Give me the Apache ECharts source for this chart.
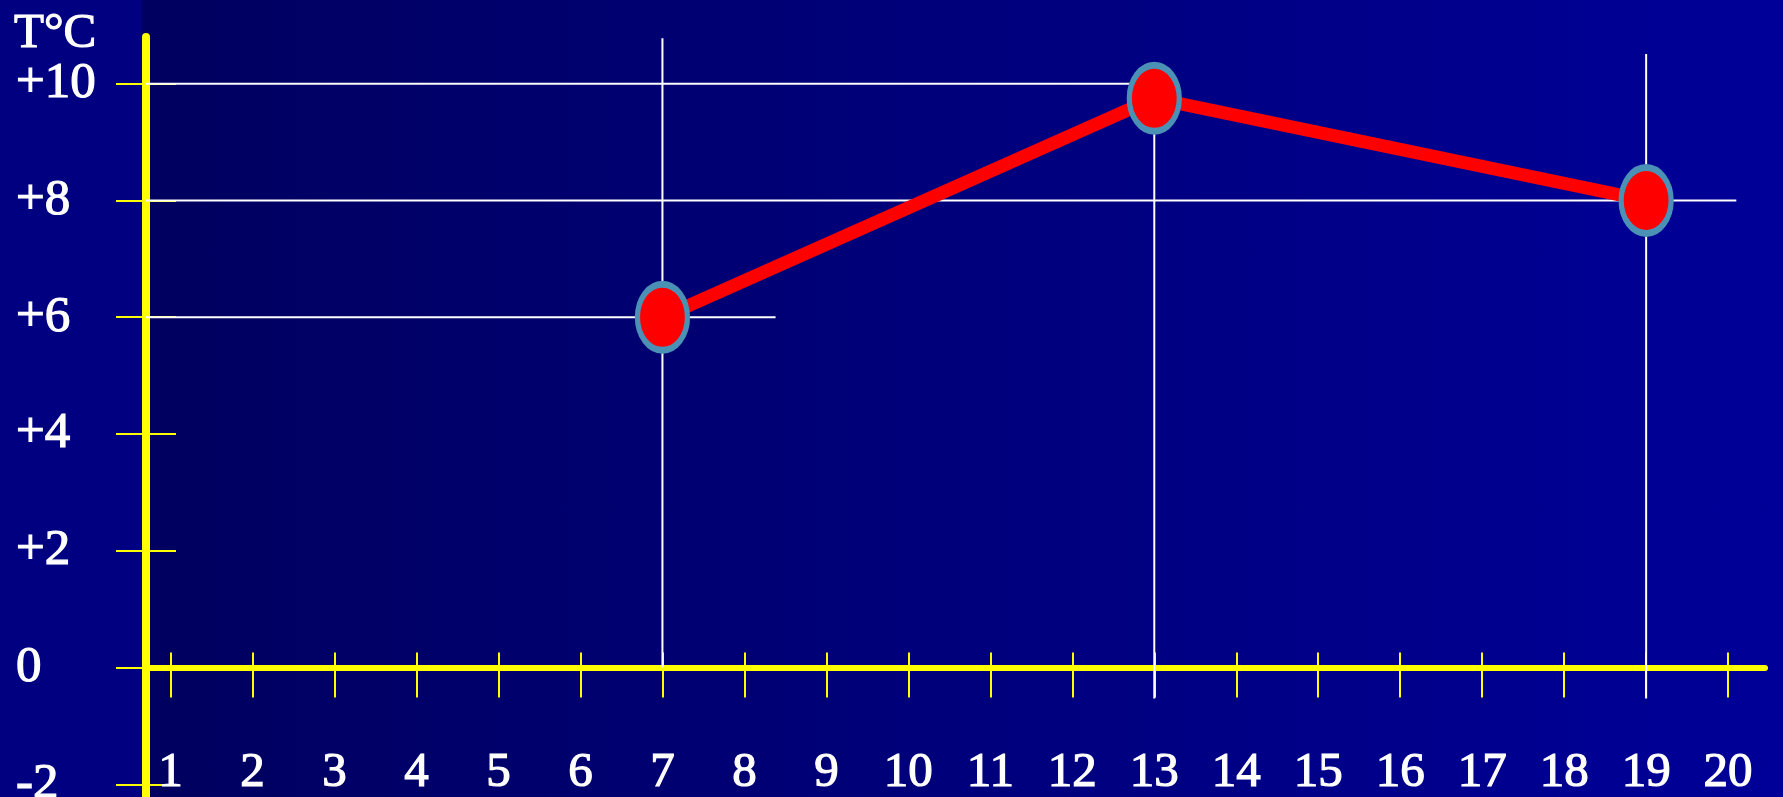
<!DOCTYPE html>
<html><head><meta charset="utf-8">
<script src="https://cdn.jsdelivr.net/npm/echarts@6/dist/echarts.min.js"></script>
<style>
html,body{margin:0;padding:0;overflow:hidden;}
#chart{width:1783px;height:797px;background:linear-gradient(to right,#000080 0px,#000080 142px,#00005f 142px,#000098 1783px);}
</style></head><body><div id="chart"></div>
<script>
// ---- data ----
const xTicks = [1,2,3,4,5,6,7,8,9,10,11,12,13,14,15,16,17,18,19,20];
const yTicks = [-2,0,2,4,6,8,10];
const yTickLabels = ['-2','0','+2','+4','+6','+8','+10'];
const hours = [7,13,19];
const temps = [6,9.75,8];
// reading guide lines (data space)
const guideH = [{y:10,xTo:13.26},{y:8,xTo:20.1},{y:6,xTo:8.38}];
const guideV = [{x:7,yFrom:10.78,yTo:0},{x:13,yFrom:10,yTo:-0.53},{x:19,yFrom:10.51,yTo:-0.53}];
const axisName = 'T°C';

const X_MIN = 0.7, X_MAX = 20.45, Y_MIN = -2.2, Y_MAX = 10.8;
const YELLOW = '#ffff00';
const FONT = '"Liberation Serif", "Times New Roman", serif';
const TXT = {color:'#ffffff', fontWeight:'normal', fontFamily:FONT, textBorderColor:'#ffffff', textBorderWidth:1.2};

const chart = echarts.init(document.getElementById('chart'), null, {renderer:'canvas'});

const guideSeries = [];
guideH.forEach(g => guideSeries.push({
  type:'line', data:[[X_MIN,g.y],[g.xTo,g.y]], showSymbol:false, symbol:'none', silent:true, z:1,
  lineStyle:{color:'#ffffff', width:2}, animation:false
}));
guideV.forEach(g => guideSeries.push({
  type:'line', data:[[g.x,g.yFrom],[g.x,g.yTo]], showSymbol:false, symbol:'none', silent:true, z:1,
  lineStyle:{color:'#ffffff', width:2}, animation:false
}));

const ellipse = 'path://M0,-100 C55.2,-100 100,-55.2 100,0 C100,55.2 55.2,100 0,100 C-55.2,100 -100,55.2 -100,0 C-100,-55.2 -55.2,-100 0,-100 Z';

chart.setOption({
  backgroundColor:'transparent',
  animation:false,
  title:{text:axisName, left:14, top:10, padding:0,
    textStyle:Object.assign({fontSize:49}, TXT)},
  grid:{left:146, right:18, top:37, bottom:1, containLabel:false, outerBoundsMode:'none'},
  xAxis:[{
    type:'value', min:X_MIN, max:X_MAX,
    axisLine:{show:true, onZero:true, onZeroAxisIndex:0, lineStyle:{color:YELLOW, width:6}},
    axisTick:{show:true, customValues:xTicks, length:30, lineStyle:{color:YELLOW, width:2}},
    axisLabel:Object.assign({show:true, customValues:xTicks, margin:-47, fontSize:49}, TXT),
    splitLine:{show:false}
  },{
    type:'value', position:'top', min:X_MIN, max:X_MAX,
    axisLine:{show:false, onZero:true, onZeroAxisIndex:0},
    axisTick:{show:true, customValues:xTicks, length:15, lineStyle:{color:YELLOW, width:2}},
    axisLabel:{show:false},
    splitLine:{show:false}
  }],
  yAxis:[{
    type:'value', min:Y_MIN, max:Y_MAX, position:'left',
    axisLine:{show:true, onZero:false, lineStyle:{color:YELLOW, width:8}},
    axisTick:{show:true, customValues:yTicks, length:30, lineStyle:{color:YELLOW, width:2}},
    axisLabel:Object.assign({show:true, customValues:yTicks, margin:130, align:'left',
      fontSize:51, padding:[8,0,0,0],
      formatter:v => { const i = yTicks.indexOf(Math.round(v)); return i >= 0 ? yTickLabels[i] : ''; }}, TXT),
    splitLine:{show:false}
  },{
    type:'value', min:Y_MIN, max:Y_MAX, position:'right', offset:-1619,
    axisLine:{show:false, onZero:false},
    axisTick:{show:true, customValues:yTicks, length:30, lineStyle:{color:YELLOW, width:2}},
    axisLabel:{show:false},
    splitLine:{show:false}
  }],
  series: guideSeries.concat([{
    type:'line', z:3,
    data: hours.map((h,i)=>[h,temps[i]]),
    symbol: ellipse, symbolSize:[50,66], showSymbol:true,
    lineStyle:{color:'#ff0000', width:13},
    itemStyle:{color:'#ff0000', borderColor:'#4a91b5', borderWidth:6},
    animation:false
  }])
});
</script></body></html>
